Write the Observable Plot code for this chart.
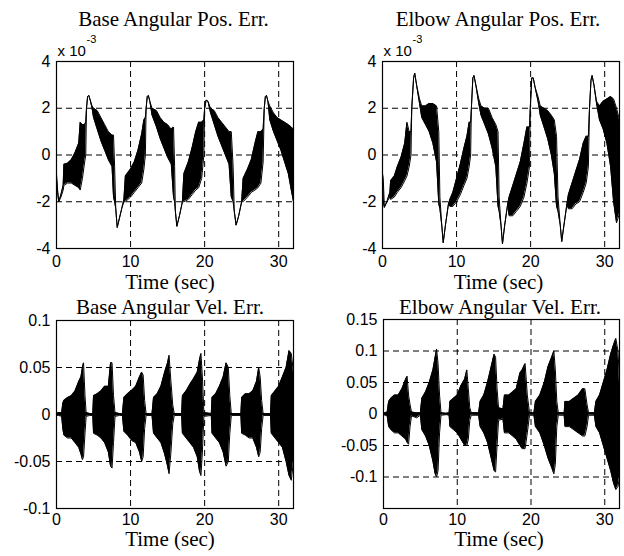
<!DOCTYPE html>
<html>
<head>
<meta charset="utf-8">
<script src="https://cdn.jsdelivr.net/npm/d3@7"></script>
<script src="https://cdn.jsdelivr.net/npm/@observablehq/plot@0.6"></script>
<style>
  html, body { margin: 0; padding: 0; background: white; }
  #fig { position: relative; width: 624px; height: 556px; background: white; overflow: hidden; }
</style>
</head>
<body>
<div id="fig"></div>
<script>
// ---------------- DATA ----------------
const titles = ["Base Angular Pos. Err.", "Elbow Angular Pos. Err.", "Base Angular Vel. Err.", "Elbow Angular Vel. Err."];
const xLabel = "Time (sec)";
const xTicks = [0, 10, 20, 30];
const xTickLabels = ["0", "10", "20", "30"];
const posTicks = [-4, -2, 0, 2, 4];
const posTickLabels = ["-4", "-2", "0", "2", "4"];
const baseVelTicks = [-0.1, -0.05, 0, 0.05, 0.1];
const baseVelTickLabels = ["-0.1", "-0.05", "0", "0.05", "0.1"];
const elbowVelTicks = [-0.1, -0.05, 0, 0.05, 0.1, 0.15];
const elbowVelTickLabels = ["-0.1", "-0.05", "0", "0.05", "0.1", "0.15"];
const posScaleNote = "x 10";
const posScaleExp = "-3";

// Base angular position error (x 10^-3): time, lower / upper envelope of the oscillation
const basePosT  = [0.0,0.15,0.3,0.6,0.9,1.0,1.5,2.0,2.5,3.0,3.2,3.5,3.8,3.95,4.05,4.2,4.35,4.55,4.8,5.0,5.5,6.0,6.5,7.0,7.5,7.7,7.85,8.0,8.2,8.5,8.8,9.1,9.3,10.0,10.5,11.0,11.5,11.8,12.0,12.1,12.25,12.4,12.6,12.9,13.5,14.0,14.5,15.0,15.5,15.8,15.95,16.05,16.25,16.6,17.0,17.2,17.8,18.3,18.8,19.2,19.6,19.9,20.0,20.2,20.45,20.8,21.3,21.8,22.3,22.8,23.3,23.6,23.85,24.0,24.25,24.6,25.0,25.2,25.8,26.3,26.8,27.2,27.6,27.9,28.05,28.2,28.35,28.55,28.8,29.3,29.8,30.3,30.8,31.3,31.7,32.0];
const basePosLo = [-1.0,-1.6,-2.0,-1.8,-1.5,-1.3,-1.2,-1.2,-1.3,-1.4,-1.5,-1.0,-0.3,0.0,2.0,2.5,2.55,2.35,2.0,1.6,1.1,0.6,0.2,-0.2,-0.5,-1.8,-2.0,-2.3,-3.1,-2.7,-2.3,-2.0,-2.0,-1.8,-1.6,-1.4,-1.2,-0.6,0.0,2.0,2.5,2.55,2.3,1.7,1.2,0.7,0.3,-0.1,-0.4,-1.8,-2.0,-2.4,-3.05,-2.6,-2.0,-2.0,-1.9,-1.7,-1.5,-1.4,-1.0,0.0,2.0,2.35,2.3,1.8,1.3,0.8,0.4,0.0,-0.4,-1.8,-2.0,-2.4,-3.0,-2.6,-2.0,-2.0,-1.8,-1.6,-1.5,-1.4,-1.2,-0.3,2.0,2.5,2.55,2.3,1.5,1.0,0.6,0.2,-0.3,-0.8,-1.5,-2.0];
const basePosHi = [-0.8,-1.5,-2.0,-1.7,-1.3,-0.4,-0.35,-0.2,0.1,0.5,1.4,1.3,1.3,1.4,2.0,2.5,2.55,2.35,2.1,2.0,1.9,1.6,1.3,1.0,0.85,0.85,-0.5,-2.3,-3.1,-2.7,-2.3,-1.9,-0.9,-0.6,-0.3,0.2,0.9,1.5,1.6,2.0,2.5,2.55,2.3,2.0,1.9,1.6,1.4,1.3,1.1,1.2,-0.5,-2.4,-3.05,-2.6,-2.0,-0.8,-0.3,0.3,1.0,1.4,1.4,1.5,2.0,2.35,2.3,2.0,1.9,1.6,1.4,1.2,1.0,1.0,-0.5,-2.4,-3.0,-2.6,-2.0,-1.0,-0.6,-0.2,0.5,1.0,1.0,1.1,2.0,2.5,2.55,2.3,2.1,1.8,1.6,1.5,1.4,1.3,1.2,1.1];

// Elbow angular position error (x 10^-3)
const elbowPosT  = [0.0,0.1,0.25,0.6,1.0,1.1,1.6,2.0,2.5,3.0,3.3,3.6,3.85,3.95,4.2,4.35,4.6,5.0,5.3,5.8,6.3,6.8,7.3,7.6,7.75,8.0,8.2,8.5,8.9,9.1,9.5,10.0,10.5,11.0,11.4,11.7,11.9,12.0,12.2,12.35,12.6,13.0,13.3,13.8,14.3,14.8,15.3,15.6,15.75,16.0,16.2,16.5,16.9,17.1,17.6,18.1,18.6,19.1,19.5,19.85,19.95,20.15,20.35,20.6,21.0,21.3,21.8,22.3,22.8,23.2,23.5,23.7,24.0,24.2,24.5,24.9,25.1,25.6,26.1,26.6,27.1,27.5,27.8,27.95,28.15,28.3,28.55,28.9,29.3,29.8,30.3,30.8,31.2,31.6,32.0];
const elbowPosLo = [-0.8,-2.0,-2.25,-2.0,-1.8,-1.9,-1.8,-1.6,-1.4,-1.1,-0.9,-0.5,0.0,2.0,3.3,3.5,3.0,2.2,1.6,1.3,1.0,0.5,-0.3,-2.1,-2.3,-3.0,-3.75,-3.0,-2.1,-2.2,-2.2,-2.0,-1.7,-1.3,-1.0,-0.5,0.0,2.0,3.3,3.4,3.0,2.2,1.7,1.3,0.9,0.3,-0.5,-2.2,-2.4,-3.0,-3.8,-3.0,-2.1,-2.6,-2.6,-2.4,-2.2,-1.8,-1.2,-0.5,2.0,3.3,3.3,2.9,2.3,1.7,1.2,0.7,0.0,-0.8,-2.2,-2.4,-3.0,-3.7,-3.0,-2.1,-2.3,-2.3,-2.1,-2.0,-1.6,-1.2,-0.5,2.0,3.2,3.4,3.0,2.2,1.5,1.1,0.5,-0.5,-2.0,-2.9,-2.5];
const elbowPosHi = [-0.8,-1.0,-2.2,-2.0,-1.6,-1.1,-0.9,-0.5,-0.1,0.5,1.4,1.0,1.0,2.0,3.3,3.5,3.0,2.4,2.1,2.1,2.2,2.2,2.1,1.0,-1.8,-3.0,-3.75,-3.0,-2.1,-1.9,-1.6,-1.0,-0.4,0.3,0.8,1.4,1.4,2.0,3.3,3.4,3.0,2.4,2.1,2.0,2.0,1.6,1.3,1.0,-1.8,-3.0,-3.8,-3.0,-2.1,-1.8,-1.3,-0.8,-0.3,0.5,1.2,1.2,2.0,3.3,3.3,2.9,2.5,2.1,2.0,1.9,1.7,1.5,0.8,-1.8,-3.0,-3.7,-3.0,-2.1,-1.7,-1.2,-0.7,-0.2,0.5,0.8,0.8,2.0,3.2,3.4,3.0,2.3,2.1,2.3,2.4,2.5,2.4,2.0,1.5];

// Base angular velocity error
const baseVelT  = [0.0,0.3,0.7,0.85,1.0,1.5,2.0,2.5,3.0,3.3,3.5,3.65,3.85,4.0,4.5,4.9,5.0,5.5,6.0,6.5,7.0,7.3,7.5,7.7,7.9,8.5,8.9,9.1,9.6,10.2,10.7,11.2,11.5,11.7,11.9,12.1,12.9,13.1,13.6,14.1,14.6,15.0,15.2,15.45,15.7,15.9,16.9,17.0,17.5,18.0,18.5,19.0,19.3,19.5,19.7,19.9,20.9,21.0,21.5,22.0,22.5,22.9,23.2,23.4,23.6,24.9,25.0,25.5,26.0,26.5,27.0,27.3,27.5,27.7,27.9,28.9,29.0,29.5,30.0,30.5,31.0,31.4,31.7,32.0];
const baseVelLo = [-0.001,-0.001,-0.002,-0.015,-0.022,-0.025,-0.025,-0.03,-0.035,-0.042,-0.048,-0.045,-0.02,-0.002,-0.001,-0.001,-0.02,-0.022,-0.025,-0.03,-0.04,-0.055,-0.057,-0.03,-0.002,-0.001,-0.001,-0.018,-0.022,-0.028,-0.03,-0.04,-0.05,-0.045,-0.015,-0.001,-0.001,-0.02,-0.025,-0.03,-0.042,-0.055,-0.063,-0.04,-0.01,-0.001,-0.001,-0.02,-0.025,-0.03,-0.035,-0.045,-0.06,-0.065,-0.04,-0.002,-0.001,-0.02,-0.025,-0.03,-0.04,-0.055,-0.05,-0.02,-0.001,-0.001,-0.02,-0.022,-0.025,-0.025,-0.035,-0.045,-0.04,-0.015,-0.001,-0.001,-0.02,-0.025,-0.03,-0.035,-0.05,-0.065,-0.07,-0.05];
const baseVelHi = [0.001,0.002,0.002,0.012,0.015,0.018,0.02,0.025,0.035,0.04,0.05,0.055,0.02,0.002,0.001,0.001,0.02,0.022,0.025,0.03,0.03,0.055,0.055,0.02,0.002,0.001,0.001,0.018,0.022,0.026,0.03,0.04,0.045,0.042,0.015,0.001,0.001,0.018,0.022,0.03,0.045,0.055,0.063,0.035,0.01,0.001,0.001,0.02,0.025,0.032,0.038,0.045,0.058,0.065,0.04,0.002,0.001,0.018,0.022,0.03,0.04,0.055,0.05,0.02,0.001,0.001,0.018,0.022,0.022,0.025,0.035,0.05,0.04,0.015,0.001,0.001,0.02,0.025,0.03,0.04,0.05,0.068,0.065,0.045];

// Elbow angular velocity error
const elbowVelT  = [0.0,0.5,0.7,1.0,1.5,2.0,2.5,3.0,3.2,3.4,3.6,3.8,4.5,5.0,5.2,5.7,6.2,6.7,7.0,7.2,7.4,7.6,7.8,8.5,8.9,9.0,9.5,10.0,10.5,11.0,11.3,11.5,11.7,11.9,12.9,13.1,13.6,14.1,14.6,15.0,15.2,15.4,15.6,16.2,16.4,17.0,17.5,18.0,18.5,18.8,19.2,19.5,19.8,20.4,20.6,21.2,21.8,22.3,22.8,23.1,23.3,23.5,23.7,24.5,24.6,25.2,25.8,26.4,27.0,27.3,27.6,27.8,28.6,28.8,29.3,29.8,30.3,30.8,31.2,31.5,31.8,32.0];
const elbowVelLo = [-0.001,-0.003,-0.02,-0.025,-0.03,-0.03,-0.035,-0.04,-0.045,-0.048,-0.02,-0.003,-0.006,-0.002,-0.025,-0.035,-0.05,-0.075,-0.095,-0.1,-0.09,-0.03,-0.002,-0.001,-0.002,-0.02,-0.025,-0.03,-0.04,-0.05,-0.05,-0.04,-0.01,-0.002,-0.002,-0.02,-0.03,-0.045,-0.07,-0.09,-0.092,-0.05,-0.01,-0.008,-0.03,-0.03,-0.035,-0.04,-0.05,-0.055,-0.055,-0.03,-0.002,-0.002,-0.02,-0.03,-0.05,-0.07,-0.085,-0.095,-0.08,-0.02,-0.002,-0.002,-0.02,-0.02,-0.025,-0.03,-0.035,-0.035,-0.02,-0.002,-0.002,-0.02,-0.03,-0.05,-0.07,-0.09,-0.11,-0.12,-0.115,-0.1];
const elbowVelHi = [0.001,0.003,0.02,0.025,0.03,0.03,0.04,0.055,0.06,0.03,0.015,0.003,0.002,0.002,0.025,0.035,0.05,0.07,0.09,0.103,0.08,0.03,0.002,0.001,0.002,0.02,0.025,0.03,0.045,0.055,0.07,0.04,0.01,0.002,0.002,0.02,0.03,0.05,0.075,0.095,0.09,0.04,0.01,0.008,0.03,0.03,0.035,0.04,0.065,0.07,0.08,0.03,0.002,0.002,0.02,0.03,0.05,0.075,0.09,0.1,0.07,0.02,0.002,0.002,0.02,0.02,0.025,0.03,0.04,0.04,0.015,0.002,0.002,0.02,0.03,0.05,0.07,0.095,0.11,0.12,0.1,0.05];

// ---------------- DRAWING ----------------
function zipEnv(T, L, H) { return T.map((t, i) => ({t, lo: L[i], hi: H[i]})); }

const SANS = "'Liberation Sans', Arial, Helvetica, sans-serif";
const SERIF = "'Liberation Serif', 'Times New Roman', serif";

function panel(cfg) {
  const data = zipEnv(cfg.T, cfg.L, cfg.H);
  const fmt = (ticks, labels) => d => { const k = ticks.findIndex(v => Math.abs(v - d) < 1e-9); return k >= 0 ? labels[k] : ""; };
  const marks = [
    Plot.gridX(xTicks.slice(1), {stroke: "black", strokeOpacity: 1, strokeWidth: 1, strokeDasharray: "6,4"}),
    Plot.gridY(cfg.yTicks, {stroke: "black", strokeOpacity: 1, strokeWidth: 1, strokeDasharray: "6,4"}),
    Plot.areaY(data, {x: "t", y1: "lo", y2: "hi", fill: "black", curve: "linear"}),
    Plot.line(data, {x: "t", y: "hi", stroke: "black", strokeWidth: 1}),
    Plot.line(data, {x: "t", y: "lo", stroke: "black", strokeWidth: 1}),
    Plot.frame({stroke: "black", strokeWidth: 1.2}),
    Plot.axisX({ticks: xTicks, label: null, tickSize: 0, tickPadding: cfg.xPad, tickFormat: fmt(xTicks, xTickLabels), fontSize: 16, fontFamily: SANS, fill: "black"}),
    Plot.axisY({ticks: cfg.yTicks, label: null, tickSize: 0, tickPadding: 6, tickFormat: fmt(cfg.yTicks, cfg.yLabels), fontSize: 16, fontFamily: SANS, fill: "black"}),
    Plot.text([cfg.title], {frameAnchor: "top", lineAnchor: "bottom", dy: cfg.titleDy, dx: cfg.titleDx, fontFamily: SERIF, fontSize: 21, fill: "black"}),
    Plot.text([xLabel], {frameAnchor: "bottom", lineAnchor: "bottom", dy: cfg.labelDy, dx: cfg.labelDx, fontFamily: SERIF, fontSize: 21, fill: "black"})
  ];
  if (cfg.note) {
    marks.push(Plot.text([posScaleNote], {frameAnchor: "top-left", textAnchor: "start", lineAnchor: "bottom", dx: 1, dy: -6, fontFamily: SANS, fontSize: 15, fill: "black"}));
    marks.push(Plot.text([posScaleExp], {frameAnchor: "top-left", textAnchor: "start", lineAnchor: "bottom", dx: 30, dy: -19, fontFamily: SANS, fontSize: 11, fill: "black"}));
  }
  const svg = Plot.plot({
    width: 312, height: 278,
    marginLeft: cfg.ml, marginRight: cfg.mr, marginTop: cfg.mt, marginBottom: cfg.mb,
    x: {domain: [0, 32], axis: null},
    y: {domain: cfg.yDomain, axis: null},
    style: {position: "absolute", left: cfg.left + "px", top: cfg.top + "px", background: "transparent", overflow: "visible", fontFamily: SANS, color: "black"},
    marks
  });
  document.getElementById("fig").appendChild(svg);
}

panel({T: basePosT, L: basePosLo, H: basePosHi, yDomain: [-4, 4], yTicks: posTicks, yLabels: posTickLabels,
  title: titles[0], note: true, left: 0, top: 0, ml: 56, mr: 19, mt: 61, mb: 30, xPad: 7,
  titleDy: -36, titleDx: -1.5, labelDy: 40, labelDx: -5});
panel({T: elbowPosT, L: elbowPosLo, H: elbowPosHi, yDomain: [-4, 4], yTicks: posTicks, yLabels: posTickLabels,
  title: titles[1], note: true, left: 312, top: 0, ml: 70, mr: 5, mt: 61, mb: 30, xPad: 7,
  titleDy: -36, titleDx: -3, labelDy: 40, labelDx: -2.5});
panel({T: baseVelT, L: baseVelLo, H: baseVelHi, yDomain: [-0.1, 0.1], yTicks: baseVelTicks, yLabels: baseVelTickLabels,
  title: titles[2], note: false, left: 0, top: 278, ml: 56, mr: 19, mt: 42, mb: 48, xPad: 5,
  titleDy: -7, titleDx: -5, labelDy: 37, labelDx: -5});
panel({T: elbowVelT, L: elbowVelLo, H: elbowVelHi, yDomain: [-0.15, 0.15], yTicks: elbowVelTicks, yLabels: elbowVelTickLabels,
  title: titles[3], note: false, left: 312, top: 278, ml: 71, mr: 5, mt: 41, mb: 48, xPad: 5,
  titleDy: -6, titleDx: -1.5, labelDy: 37, labelDx: -2.5});
</script>
</body>
</html>
